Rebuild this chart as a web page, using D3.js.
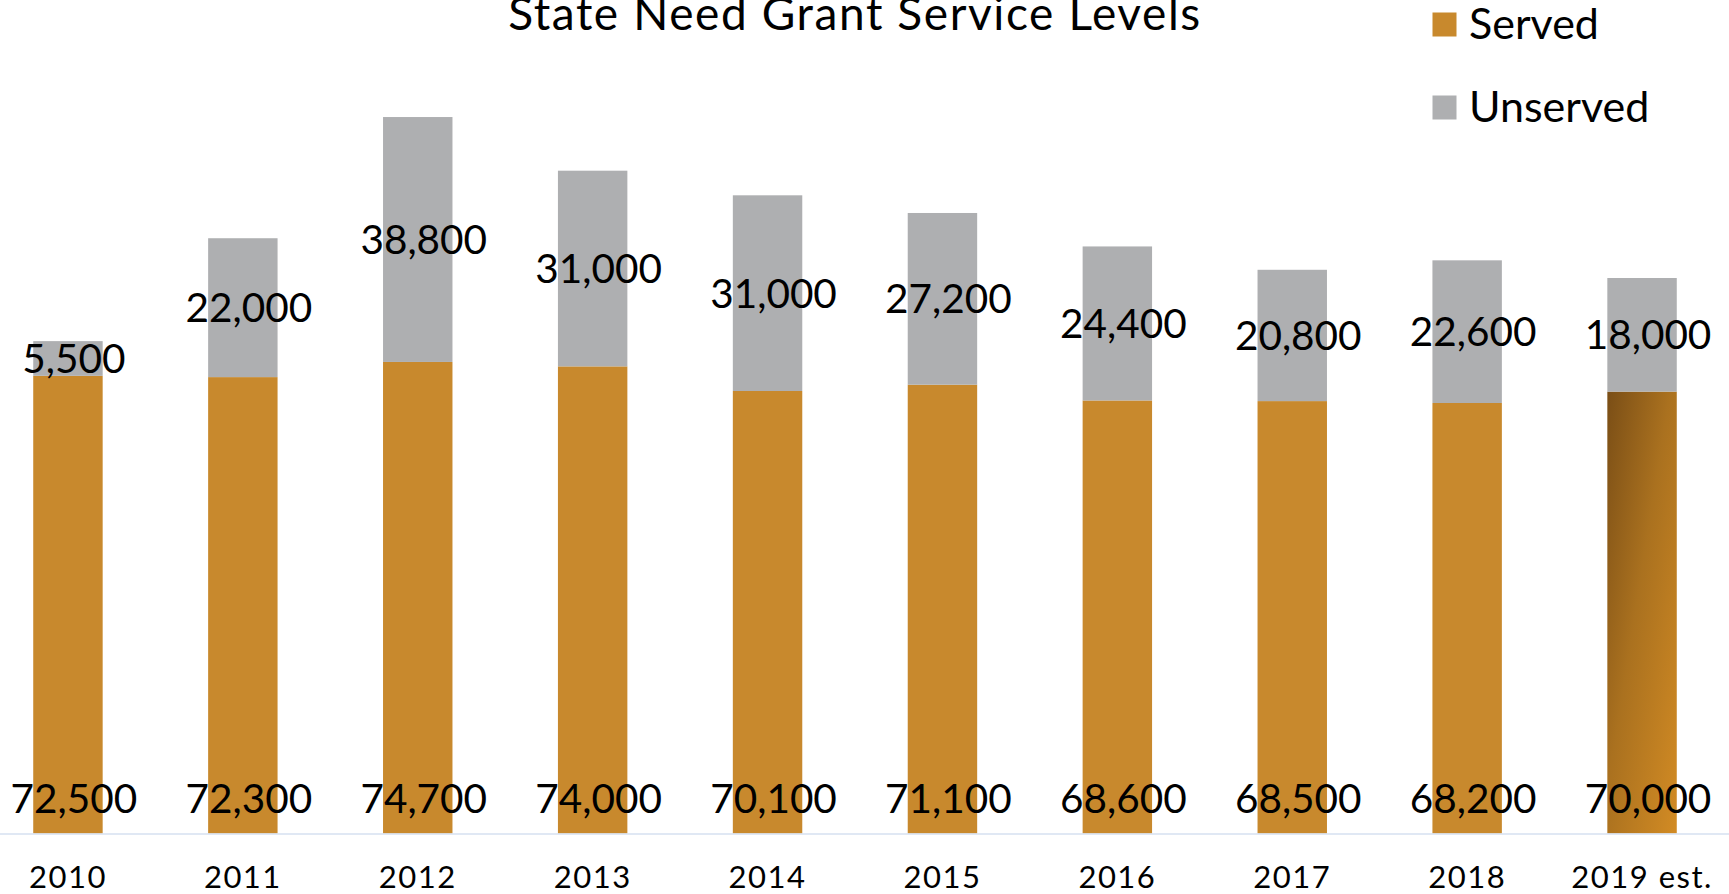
<!DOCTYPE html>
<html>
<head>
<meta charset="utf-8">
<script src="https://cdn.jsdelivr.net/npm/d3@7"></script>
<style>
  html, body { margin: 0; padding: 0; background: #ffffff; }
  svg { display: block; }
  text { font-family: Lato, "Open Sans", sans-serif; fill: #000; }
</style>
</head>
<body>
<svg id="chart" width="1729" height="894"></svg>
<script>
const categories = ["2010", "2011", "2012", "2013", "2014", "2015", "2016", "2017", "2018", "2019 est."];
const served =   [72500, 72300, 74700, 74000, 70100, 71100, 68600, 68500, 68200, 70000];
const unserved = [5500, 22000, 38800, 31000, 31000, 27200, 24400, 20800, 22600, 18000];
const seriesNames = ["Served", "Unserved"];
const yDomain = [0, 120000];
const title = "State Need Grant Service Levels";

const W = 1729, H = 894;
const svg = d3.select("#chart");
const colors = { Served: "#C8892D", Unserved: "#AEAFB1" };

const defs = svg.append("defs");
const grad = defs.append("linearGradient").attr("id", "estGrad")
  .attr("x1", "0%").attr("y1", "0%").attr("x2", "100%").attr("y2", "100%");
grad.append("stop").attr("offset", "0%").attr("stop-color", "#7A4E16");
grad.append("stop").attr("offset", "45%").attr("stop-color", "#AA711F");
grad.append("stop").attr("offset", "100%").attr("stop-color", "#D28B24");

const x = d3.scaleBand().domain(categories).range([-19.5, 1729.5])
  .paddingInner(0.603).paddingOuter(0.3015);
const y = d3.scaleLinear().domain(yDomain).range([833.5, 76]);

const rows = categories.map((c, i) => ({ cat: c, Served: served[i], Unserved: unserved[i] }));
const stack = d3.stack().keys(seriesNames)(rows);

const g = svg.append("g");
stack.forEach(layer => {
  g.append("g").selectAll("rect").data(layer).join("rect")
    .attr("x", d => x(d.data.cat))
    .attr("width", x.bandwidth())
    .attr("y", d => y(d[1]))
    .attr("height", d => y(d[0]) - y(d[1]))
    .attr("fill", d => (layer.key === "Served" && d.data.cat.indexOf("est") >= 0) ? "url(#estGrad)" : colors[layer.key]);
});

// axis line
const xAxis = d3.axisBottom(x).tickSize(0).tickPadding(0);
const axG = svg.append("g").attr("transform", `translate(0,${y(0)})`).call(xAxis);
axG.select(".domain").attr("d", `M0,0.5H${W}`).attr("stroke", "#D6E0F0").attr("stroke-width", 1.5);
axG.selectAll(".tick text").attr("dy", null).attr("y", 54.5)
  .style("font-family", "Lato, sans-serif").style("font-size", "31px")
  .style("letter-spacing", "1.5px").attr("fill", "#000");

const fmt = d3.format(",");
const fs = 40.5;
const labelShift = 6;
// served labels (inside base)
g.append("g").selectAll("text").data(stack[0]).join("text")
  .attr("x", d => x(d.data.cat) + x.bandwidth() / 2 + labelShift)
  .attr("y", d => y(0) - 20.5)
  .attr("text-anchor", "middle")
  .style("font-size", fs + "px")
  .text(d => fmt(d.data.Served));
// unserved labels (center)
g.append("g").selectAll("text").data(stack[1]).join("text")
  .attr("x", d => x(d.data.cat) + x.bandwidth() / 2 + labelShift)
  .attr("y", d => (y(d[0]) + y(d[1])) / 2 + 0.36 * fs)
  .attr("text-anchor", "middle")
  .style("font-size", fs + "px")
  .text(d => fmt(d.data.Unserved));

// title
svg.append("text").attr("x", 855).attr("y", 30).attr("text-anchor", "middle")
  .style("font-size", "46px").style("letter-spacing", "1.6px").text(title);

// legend
const lg = svg.append("g").attr("transform", "translate(1432.5,0)");
seriesNames.forEach((s, i) => {
  const yy = 12.5 + i * 83;
  lg.append("rect").attr("x", 0).attr("y", yy).attr("width", 24).attr("height", 24).attr("fill", colors[s]);
  lg.append("text").attr("x", 36.5).attr("y", yy + 26.5).style("font-size", "43px").text(s);
});
</script>
</body>
</html>
